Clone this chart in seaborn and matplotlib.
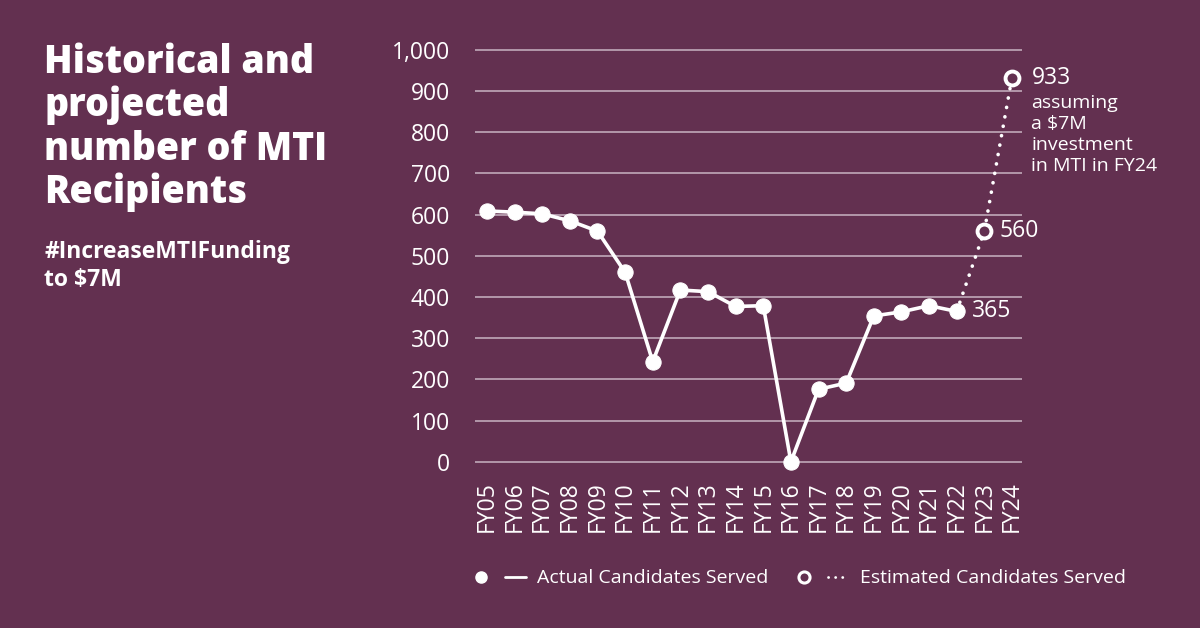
import matplotlib
matplotlib.use("Agg")
import matplotlib.pyplot as plt
import seaborn as sns
import pandas as pd
import numpy as np
from matplotlib.lines import Line2D
from matplotlib.legend_handler import HandlerTuple

years = ["FY05", "FY06", "FY07", "FY08", "FY09", "FY10", "FY11", "FY12", "FY13", "FY14",
         "FY15", "FY16", "FY17", "FY18", "FY19", "FY20", "FY21", "FY22", "FY23", "FY24"]
actual_years = years[:18]
actual_values = [609, 606, 602, 585, 560, 460, 243, 417, 413, 377, 379, 0, 176, 191, 354, 364, 379, 365]
est_years = ["FY22", "FY23", "FY24"]
est_values = [365, 560, 933]
yticks = [0, 100, 200, 300, 400, 500, 600, 700, 800, 900, 1000]

BG = "#633050"
GRID = "#b397aa"
WHITE = "#ffffff"

sns.set_theme(style="white")
plt.rcParams["font.family"] = ["Open Sans", "DejaVu Sans"]

fig = plt.figure(figsize=(12, 6.28), dpi=100, facecolor=BG)
ax = fig.add_axes([0.3958, 0.2516, 0.4558, 0.6768])
ax.set_facecolor(BG)

xpos = {y: i for i, y in enumerate(years)}
df_a = pd.DataFrame({"x": [xpos[y] for y in actual_years], "v": actual_values})
df_e = pd.DataFrame({"x": [xpos[y] for y in est_years], "v": est_values})

for yv in yticks:
    ax.axhline(yv, color=GRID, lw=1.4, zorder=0)

sns.lineplot(data=df_e, x="x", y="v", ax=ax, color=WHITE, lw=2.6,
             linestyle=(0, (0.05, 2.6)), dash_capstyle="round", zorder=2)
sns.lineplot(data=df_a, x="x", y="v", ax=ax, color=WHITE, lw=2.6, marker="o",
             markersize=11, markeredgecolor=WHITE, markerfacecolor=WHITE, zorder=3)
df_e2 = df_e.iloc[1:]
ax.plot(df_e2["x"], df_e2["v"], linestyle="none", marker="o", markersize=10,
        markerfacecolor=BG, markeredgecolor=WHITE, markeredgewidth=2.8, zorder=4)

ax.set_xlim(-0.434, 19.36)
ax.set_ylim(-20, 1012)
ax.set_xticks(range(len(years)))
ax.set_xticklabels(years, rotation=90, color=WHITE, fontsize=16.5)
ax.set_yticks(yticks)
ax.set_yticklabels([f"{v:,}" for v in yticks], color=WHITE, fontsize=16.5)
ax.tick_params(axis="both", length=0)
ax.tick_params(axis="y", pad=18)
ax.tick_params(axis="x", pad=8)
ax.set_xlabel("")
ax.set_ylabel("")
for s in ax.spines.values():
    s.set_visible(False)

# annotations
ax.annotate("933", (xpos["FY24"], 933), xytext=(14, 0), textcoords="offset points",
            color=WHITE, fontsize=16.5, va="center", ha="left")
ax.annotate("assuming\na $7M\ninvestment\nin MTI in FY24", (xpos["FY24"], 933), xytext=(14, -12),
            textcoords="offset points", color=WHITE, fontsize=14, va="top", ha="left",
            linespacing=1.2)
ax.annotate("560", (xpos["FY23"], 560), xytext=(11, 0), textcoords="offset points",
            color=WHITE, fontsize=16.5, va="center", ha="left")
ax.annotate("365", (xpos["FY22"], 365), xytext=(11, 0), textcoords="offset points",
            color=WHITE, fontsize=16.5, va="center", ha="left")

# titles
fig.text(0.037, 0.932, "Historical and\nprojected\nnumber of MTI\nRecipients", color=WHITE,
         fontsize=27, fontweight="heavy", va="top", ha="left", linespacing=1.14)
fig.text(0.037, 0.618, "#IncreaseMTIFunding\nto $7M", color=WHITE, fontsize=16.5,
         fontweight="bold", va="top", ha="left", linespacing=1.25)

# legend
h_dot = Line2D([], [], linestyle="none", marker="o", markersize=8, color=WHITE)
h_line = Line2D([], [], color=WHITE, lw=2)
h_odot = Line2D([], [], linestyle="none", marker="o", markersize=8, markerfacecolor=BG,
                markeredgecolor=WHITE, markeredgewidth=2.2)
h_dots = Line2D([], [], color=WHITE, lw=2, linestyle=(0, (0.05, 2.5)), dash_capstyle="round")
leg = fig.legend([(h_dot, h_line), (h_odot, h_dots)],
                 ["Actual Candidates Served", "Estimated Candidates Served"],
                 handler_map={tuple: HandlerTuple(ndivide=None, pad=0.7)},
                 loc="center left", bbox_to_anchor=(0.378, 0.079), ncol=2, frameon=False,
                 fontsize=14, handlelength=2.8, columnspacing=1.3, handletextpad=0.6)
for t in leg.get_texts():
    t.set_color(WHITE)

fig.savefig("out.png", dpi=100, facecolor=BG)
